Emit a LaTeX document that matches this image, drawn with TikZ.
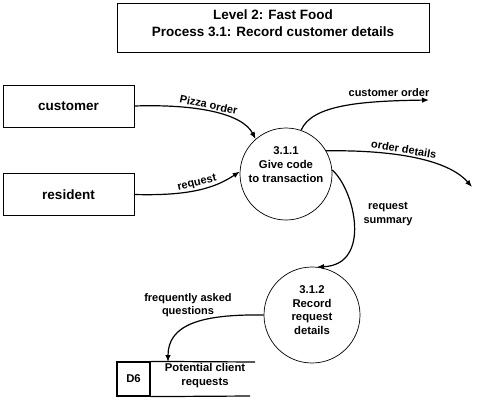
\documentclass[tikz,border=0pt]{standalone}
\usepackage{fontspec}
\setmainfont{Liberation Sans}
\usetikzlibrary{arrows.meta}
\begin{document}
\begin{tikzpicture}[x=1pt,y=-1pt,
  every node/.style={inner sep=0pt},
  txt/.style={font=\bfseries\fontsize{11.3}{14}\selectfont, align=center},
  bigtxt/.style={font=\bfseries\fontsize{13.5}{16}\selectfont},
  lbl/.style={font=\bfseries\fontsize{11}{13.5}\selectfont, align=center},
  titlebox/.style={draw, line width=0.8pt, minimum width=312pt, minimum height=49pt},
  entity/.style={draw, line width=0.8pt, minimum width=131pt, minimum height=42pt},
  proc/.style={draw, circle, line width=0.7pt},
  flow/.style={line width=1.2pt, -{Latex[length=7pt,width=5.5pt]}},
  storeline/.style={line width=1.2pt}]
\useasboundingbox (0,0) rectangle (482,400);

% title
\node[titlebox] (title) at (273,27.5) {};
\node[txt, font=\bfseries\fontsize{13.5}{17}\selectfont] (titletext) at (273,23.5) {Level 2: Fast Food\\Process 3.1: Record customer details};

% external entities
\node[entity, bigtxt] (cust) at (68.5,106) {customer};
\node[entity, bigtxt] (res) at (68.5,194.5) {resident};

% processes
\node[proc, minimum size=92pt] (p1) at (286,174) {};
\node[txt] (p1text) at (286,164.5) {3.1.1\\Give code\\to transaction};
\node[proc, minimum size=96pt] (p2) at (312,315) {};
\node[txt, font=\bfseries\fontsize{11.3}{13.7}\selectfont] (p2text) at (312,310) {3.1.2\\Record\\request\\details};

% data store
\node[draw, line width=1.2pt, minimum width=33pt, minimum height=34pt] (d6) at (133.5,379) {};
\node[txt] (d6id) at (133.5,379) {D6};
\node[txt] (d6text) at (205,376) {Potential client\\requests};
\coordinate (stTopEnd) at (255,362);
\coordinate (stBotEnd) at (250,396);
\draw[storeline] (d6.north east) -- (stTopEnd);
\draw[storeline] (d6.south east) -- (stBotEnd);
\coordinate (stIn) at (168,362);

% free ends
\coordinate (coEnd) at (429,100);
\coordinate (odEnd) at (472,187);

% flows
\draw[flow] (cust.east) .. controls (195,104) and (242,113) .. (p1.131)
  node[lbl, pos=0.46, above=1.5pt, sloped] (l1) {Pizza order};
\draw[flow] (res.east) .. controls (190,196) and (215,188) .. (p1.177)
  node[lbl, pos=0.5, above=1.5pt, sloped] (l2) {request};
\draw[flow] (p1.71) .. controls (312,105) and (360,101) .. (coEnd);
\node[lbl] (l3) at (389,93) {customer order};
\draw[flow] (p1.30) .. controls (380,150) and (445,156) .. (odEnd)
  node[lbl, pos=0.46, above=2pt, sloped] (l4) {order details};
\draw[flow] (p1.5) .. controls (355,190) and (372,265) .. (p2.84);
\node[lbl] (l5) at (388,214) {request\\summary};
\draw[flow] (p2.180) .. controls (200,314) and (168,325) .. (stIn);
\node[lbl] (l6) at (188,305) {frequently asked\\questions};
\end{tikzpicture}
\end{document}
